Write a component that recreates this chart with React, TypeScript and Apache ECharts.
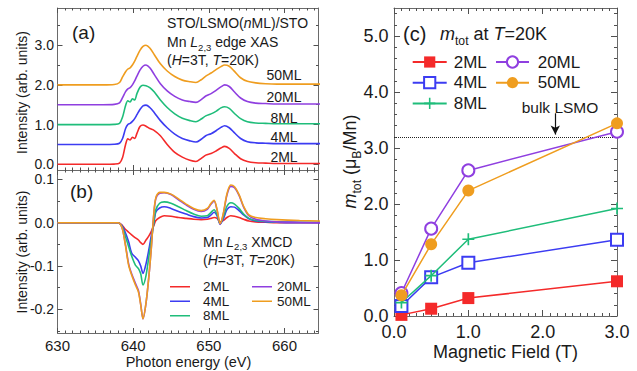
import React, { useEffect, useRef } from 'react';
import * as echarts from 'echarts';

// ---------- (a) Mn L2,3 edge XAS (curves offset by 0.5) ----------
const xasEnergy = [630, 636, 637.5, 638.2, 638.6, 639.0, 639.3, 639.6, 639.9, 640.2, 640.5, 640.9, 641.3, 641.7, 642.2, 642.8, 643.6, 644.5, 645.5, 646.5, 647.5, 648.3, 649.0, 649.6, 650.3, 651.0, 651.6, 652.1, 652.7, 653.4, 654.2, 655.1, 656.2, 657.5, 659, 662, 665];
const xas2ML = [0, 0, 0.005, 0.03, 0.17, 0.5, 0.64, 0.61, 0.68, 0.65, 0.78, 0.95, 0.99, 0.96, 0.9, 0.85, 0.72, 0.5, 0.3, 0.18, 0.1, 0.07, 0.15, 0.23, 0.27, 0.34, 0.41, 0.45, 0.4, 0.27, 0.14, 0.07, 0.04, 0.03, 0.02, 0.02, 0.02];
const xas4ML = [0.5, 0.5, 0.505, 0.53, 0.65, 0.9, 1.0, 1.03, 1.08, 1.15, 1.25, 1.38, 1.47, 1.49, 1.43, 1.3, 1.1, 0.92, 0.76, 0.65, 0.59, 0.56, 0.63, 0.72, 0.77, 0.85, 0.93, 0.97, 0.92, 0.79, 0.65, 0.57, 0.54, 0.53, 0.52, 0.52, 0.52];
const xas8ML = [1.0, 1.0, 1.005, 1.03, 1.19, 1.48, 1.6, 1.57, 1.65, 1.62, 1.78, 1.94, 1.99, 1.98, 1.93, 1.82, 1.62, 1.43, 1.27, 1.16, 1.1, 1.07, 1.14, 1.22, 1.27, 1.34, 1.42, 1.45, 1.41, 1.28, 1.15, 1.07, 1.04, 1.03, 1.02, 1.02, 1.02];
const xas20ML = [1.5, 1.5, 1.51, 1.55, 1.68, 1.83, 1.9, 1.93, 2.0, 2.1, 2.22, 2.37, 2.47, 2.5, 2.43, 2.26, 2.03, 1.85, 1.71, 1.62, 1.58, 1.56, 1.63, 1.72, 1.78, 1.87, 1.95, 2.0, 1.96, 1.82, 1.67, 1.58, 1.54, 1.53, 1.52, 1.52, 1.52];
const xas50ML = [2.0, 2.0, 2.01, 2.06, 2.2, 2.33, 2.4, 2.43, 2.5, 2.6, 2.72, 2.87, 2.97, 3.0, 2.93, 2.76, 2.53, 2.35, 2.21, 2.12, 2.08, 2.06, 2.13, 2.22, 2.3, 2.39, 2.46, 2.5, 2.47, 2.34, 2.18, 2.09, 2.05, 2.03, 2.02, 2.02, 2.02];

// ---------- (b) Mn L2,3 XMCD ----------
const xmcdEnergy = [630, 636, 638.0, 638.5, 638.9, 639.4, 639.8, 640.3, 640.7, 641.0, 641.3, 641.7, 642.1, 642.4, 642.7, 643.0, 643.5, 644.1, 645.0, 646.0, 647.0, 648.0, 649.0, 649.8, 650.3, 650.7, 651.1, 651.5, 651.9, 652.4, 652.9, 653.4, 654.0, 654.6, 655.3, 656.2, 657.5, 659, 662, 665];
const xmcd2ML = [0, 0, 0, -0.005, -0.014, -0.022, -0.028, -0.035, -0.04, -0.046, -0.05, -0.04, -0.03, -0.02, -0.008, 0.005, 0.012, 0.016, 0.015, 0.012, 0.01, 0.008, 0.007, 0.008, 0.01, 0.012, 0.01, 0.002, 0.005, 0.012, 0.016, 0.015, 0.012, 0.008, 0.004, 0.002, 0.001, 0, 0, 0];
const xmcd4ML = [0, 0, 0, -0.006, -0.02, -0.044, -0.07, -0.08, -0.088, -0.1, -0.117, -0.095, -0.06, -0.03, -0.004, 0.025, 0.034, 0.037, 0.033, 0.026, 0.02, 0.014, 0.011, 0.012, 0.018, 0.024, 0.016, -0.003, 0.008, 0.03, 0.037, 0.036, 0.028, 0.018, 0.009, 0.004, 0.002, 0.001, 0, 0];
const xmcd8ML = [0, 0, 0, -0.008, -0.027, -0.055, -0.077, -0.098, -0.106, -0.118, -0.144, -0.122, -0.075, -0.04, -0.004, 0.03, 0.045, 0.048, 0.045, 0.037, 0.028, 0.02, 0.015, 0.016, 0.024, 0.03, 0.018, -0.003, 0.012, 0.038, 0.046, 0.043, 0.033, 0.02, 0.01, 0.005, 0.003, 0.002, 0.001, 0.001];
const xmcd20ML = [0, 0, 0, -0.01, -0.042, -0.095, -0.118, -0.14, -0.157, -0.188, -0.222, -0.186, -0.12, -0.058, 0.013, 0.056, 0.068, 0.069, 0.065, 0.053, 0.041, 0.031, 0.026, 0.031, 0.043, 0.05, 0.028, -0.004, 0.018, 0.064, 0.084, 0.081, 0.063, 0.036, 0.016, 0.008, 0.004, 0.002, 0.001, 0];
const xmcd50ML = [0, 0, 0, -0.01, -0.044, -0.098, -0.121, -0.144, -0.16, -0.19, -0.222, -0.185, -0.12, -0.058, 0.015, 0.058, 0.07, 0.07, 0.066, 0.055, 0.043, 0.033, 0.028, 0.033, 0.045, 0.052, 0.03, -0.002, 0.02, 0.067, 0.087, 0.083, 0.065, 0.038, 0.018, 0.012, 0.009, 0.007, 0.005, 0.004];

// ---------- (c) m_tot vs field at T=20K ----------
const fieldT = [0.1, 0.5, 1.0, 3.0];
const mtot2ML = [0.02, 0.13, 0.32, 0.62];
const mtot4ML = [0.18, 0.69, 0.95, 1.36];
const mtot8ML = [0.24, 0.72, 1.37, 1.92];
const mtot20ML = [0.41, 1.56, 2.6, 3.29];
const mtot50ML = [0.37, 1.28, 2.24, 3.44];
const bulkLSMO = 3.2;

const thickness = ['2ML', '4ML', '8ML', '20ML', '50ML'];
const energyTicks = [630, 640, 650, 660];
const xasTicks = [0, 1, 2, 3];
const xmcdTicks = [-0.2, -0.1, 0, 0.1];
const fieldTicks = [0, 1, 2, 3];
const mtotTicks = [0, 1, 2, 3, 4, 5];

const FF = '"Liberation Sans", Arial, Helvetica, sans-serif';
const TXT = '#1a1a1a';
const FRAME = '#6a6a6a';
const TICK = '#505050';
const RED = '#f42a2a';
const BLUE = '#3c3cf2';
const GREEN = '#1fbd7a';
const PURPLE = '#8f3fe0';
const ORANGE = '#ef9d1f';
const COLORS = [RED, BLUE, GREEN, PURPLE, ORANGE];

function steps(a: number, b: number, s: number, skip: number): number[] {
  const out: number[] = [];
  for (let i = 0; a + i * s <= b + 1e-9; i++) {
    const v = +(a + i * s).toFixed(4);
    if (Math.abs(v / skip - Math.round(v / skip)) > 1e-6) out.push(v);
  }
  return out;
}

function axisGroup(dim: 'x' | 'y', gridIndex: number, min: number, max: number, major: number[], minor: number[], label: any, majorLen: number, minorLen: number) {
  const p1 = dim === 'x' ? 'bottom' : 'left';
  const p2 = dim === 'x' ? 'top' : 'right';
  const base = { type: 'value', gridIndex, min, max, splitLine: { show: false }, minorTick: { show: false }, minorSplitLine: { show: false } };
  const tick = (vals: number[], len: number) => ({ show: true, inside: true, length: len, customValues: vals, lineStyle: { color: TICK, width: 1 } });
  const line = { show: true, onZero: false, lineStyle: { color: FRAME, width: 1 } };
  const noLine = { show: false, onZero: false };
  const noLabel = { show: false };
  return [
    { ...base, position: p1, axisLine: line, axisTick: tick(major, majorLen), axisLabel: label ? { show: true, customValues: major, fontFamily: FF, color: TXT, ...label } : noLabel },
    { ...base, position: p2, axisLine: line, axisTick: tick(major, majorLen), axisLabel: noLabel },
    { ...base, position: p1, axisLine: noLine, axisTick: tick(minor, minorLen), axisLabel: noLabel },
    { ...base, position: p2, axisLine: noLine, axisTick: tick(minor, minorLen), axisLabel: noLabel },
  ];
}

function richStyles(fs: number) {
  const lh = Math.round(fs * 1.45);
  const sfs = Math.round(fs * 0.68 * 10) / 10;
  return {
    n: { fontSize: fs, fontFamily: FF, fill: TXT, lineHeight: lh },
    i: { fontSize: fs, fontFamily: FF, fill: TXT, fontStyle: 'italic', lineHeight: lh },
    s: { fontSize: sfs, fontFamily: FF, fill: TXT, lineHeight: sfs + 1, verticalAlign: 'bottom' },
  };
}

function gText(x: number, y: number, text: string, fs: number, opts: any = {}) {
  return {
    type: 'text', x, y, silent: true, rotation: opts.rotation || 0, z: 100,
    style: { text, fontSize: fs, fontFamily: FF, fill: TXT, align: opts.align || 'left', verticalAlign: 'middle', rich: opts.rich ? richStyles(fs) : undefined },
  };
}

const pairs = (xs: number[], ys: number[]) => xs.map((x, i) => [x, ys[i]]);

const LINE_ICON = 'path://M0,0H0.05V0.05H0Z M0,4.2H20V5.8H0Z M19.95,9.95H20V10H19.95Z';
const PLUS = 'path://M0,4.3H10V5.7H0Z M4.3,0H5.7V10H4.3Z';

function buildOption() {
  const xAxes = [
    ...axisGroup('x', 0, 630, 664.5, energyTicks, steps(631, 664, 1, 10), null, 5, 2.5),
    ...axisGroup('x', 1, 630, 664.5, energyTicks, steps(631, 664, 1, 10), { fontSize: 15, margin: 4.5, formatter: (v: number) => String(v) }, 5, 2.5),
    ...axisGroup('x', 2, 0, 3, fieldTicks, steps(0.1, 2.9, 0.1, 1), { fontSize: 18, margin: 6.5, formatter: (v: number) => v.toFixed(1) }, 6, 3),
  ];
  const yAxes = [
    ...axisGroup('y', 0, -0.144, 3.937, xasTicks, [0.5, 1.5, 2.5, 3.5], { fontSize: 14, margin: 3.5, formatter: (v: number) => v.toFixed(1) }, 5, 2.5),
    ...axisGroup('y', 1, -0.2547, 0.1217, xmcdTicks, [-0.25, -0.15, -0.05, 0.05], { fontSize: 14, margin: 3.5, formatter: (v: number) => v.toFixed(1) }, 5, 2.5),
    ...axisGroup('y', 2, 0, 5.5, mtotTicks, steps(0.2, 5.4, 0.2, 1), { fontSize: 18, margin: 5.5, formatter: (v: number) => v.toFixed(1) }, 6, 3),
  ];

  const xasData = [xas2ML, xas4ML, xas8ML, xas20ML, xas50ML];
  const xmcdData = [xmcd2ML, xmcd4ML, xmcd8ML, xmcd20ML, xmcd50ML];
  const mtotData = [mtot2ML, mtot4ML, mtot8ML, mtot20ML, mtot50ML];
  const symbols = ['rect', 'emptyRect', PLUS, 'emptyCircle', 'circle'];
  const symSizes = [12, 12, 12, 12, 12];

  const series: any[] = [];
  thickness.forEach((t, k) => {
    series.push({
      name: 'xas-' + t, type: 'line', xAxisIndex: 0, yAxisIndex: 0, data: pairs(xasEnergy, xasData[k]),
      symbol: 'none', smooth: 0.3, silent: true, lineStyle: { color: COLORS[k], width: 1.6 }, itemStyle: { color: COLORS[k] },
    });
  });
  thickness.forEach((t, k) => {
    series.push({
      name: 'xmcd-' + t, type: 'line', xAxisIndex: 4, yAxisIndex: 4, data: pairs(xmcdEnergy, xmcdData[k]),
      symbol: 'none', smooth: 0.3, silent: true, lineStyle: { color: COLORS[k], width: 1.6 }, itemStyle: { color: COLORS[k] },
    });
  });
  thickness.forEach((t, k) => {
    const s: any = {
      name: 'm-' + t, type: 'line', xAxisIndex: 8, yAxisIndex: 8, data: pairs(fieldT, mtotData[k]),
      symbol: symbols[k], symbolSize: symSizes[k], silent: true, z: 5 + k,
      lineStyle: { color: COLORS[k], width: 1.5 }, itemStyle: { color: COLORS[k], borderWidth: 1.5 },
    };
    if (k === 0) {
      s.markLine = {
        silent: true, symbol: 'none', label: { show: false }, animation: false,
        data: [
          { yAxis: bulkLSMO, symbol: 'none', lineStyle: { type: 'dotted', color: '#222', width: 1 } },
          [
            { coord: [2.17, 3.62], symbol: 'none', lineStyle: { type: 'solid', color: '#111', width: 1.2 } },
            { coord: [2.17, 3.24], symbol: 'arrow', symbolSize: [7, 9] },
          ],
        ],
      };
    }
    series.push(s);
  });

  const strip = (name: string) => name.split('-')[1];
  const legendBase = { orient: 'vertical', padding: 0, selectedMode: false, formatter: strip };

  const legend = [
    { ...legendBase, data: ['xmcd-2ML', 'xmcd-4ML', 'xmcd-8ML'], left: 170, top: 279.7, itemGap: 0.5, itemWidth: 20, itemHeight: 10, icon: LINE_ICON,
      textStyle: { fontSize: 13.5, fontFamily: FF, color: TXT, lineHeight: 13.5, padding: [0, 0, 0, 8] } },
    { ...legendBase, data: ['xmcd-20ML', 'xmcd-50ML'], left: 252, top: 279.7, itemGap: 0.5, itemWidth: 20, itemHeight: 10, icon: LINE_ICON,
      textStyle: { fontSize: 13.5, fontFamily: FF, color: TXT, lineHeight: 13.5, padding: [0, 0, 0, 0] } },
    { ...legendBase, data: ['m-2ML', 'm-4ML', 'm-8ML'], left: 411.7, top: 53.5, itemGap: 3.7, itemWidth: 34, itemHeight: 14,
      textStyle: { fontSize: 17, fontFamily: FF, color: TXT, lineHeight: 17, padding: [0, 0, 0, 2] } },
    { ...legendBase, data: ['m-20ML', 'm-50ML'], left: 495, top: 53.5, itemGap: 3.7, itemWidth: 33, itemHeight: 14,
      textStyle: { fontSize: 17, fontFamily: FF, color: TXT, lineHeight: 17, padding: [0, 0, 0, 3.7] } },
  ];

  const graphic = [
    gText(72, 32, '(a)', 19),
    gText(167, 23, '{n|STO/LSMO(}{i|n}{n|ML)/STO}', 14, { rich: true }),
    gText(167, 42, '{n|Mn }{i|L}{s|2,3}{n| edge XAS}', 14, { rich: true }),
    gText(167, 60, '{n|(}{i|H}{n|=3T, }{i|T}{n|=20K)}', 14, { rich: true }),
    gText(284, 75, '50ML', 14, { align: 'center' }),
    gText(284, 97, '20ML', 14, { align: 'center' }),
    gText(284, 118, '8ML', 14, { align: 'center' }),
    gText(284, 137, '4ML', 14, { align: 'center' }),
    gText(284, 156.5, '2ML', 14, { align: 'center' }),
    gText(70, 191, '(b)', 19),
    gText(203, 241.7, '{n|Mn }{i|L}{s|2,3}{n| XMCD}', 14, { rich: true }),
    gText(203, 260, '{n|(}{i|H}{n|=3T, }{i|T}{n|=20K)}', 14, { rich: true }),
    gText(188.5, 361.7, 'Photon energy (eV)', 14.5, { align: 'center' }),
    gText(22, 92.5, 'Intensity (arb. units)', 14, { align: 'center', rotation: Math.PI / 2 }),
    gText(22, 252, 'Intensity (arb. units)', 14, { align: 'center', rotation: Math.PI / 2 }),
    gText(403, 34, '(c)', 20),
    gText(440, 34, '{i|m}{s|tot}{n| at }{i|T}{n|=20K}', 18, { rich: true }),
    gText(560, 107, 'bulk LSMO', 15.5, { align: 'center' }),
    gText(505.5, 352, 'Magnetic Field (T)', 18, { align: 'center' }),
    gText(350, 161.5, '{i|m}{s|tot}{n| (μ}{s|B}{n|/Mn)}', 18, { align: 'center', rotation: Math.PI / 2, rich: true }),
  ];

  return {
    animation: false,
    backgroundColor: '#ffffff',
    textStyle: { fontFamily: FF },
    grid: [
      { left: 57.5, top: 8, width: 261, height: 162, containLabel: false, outerBoundsMode: 'none' },
      { left: 57.5, top: 170, width: 261, height: 163, containLabel: false, outerBoundsMode: 'none' },
      { left: 394, top: 8, width: 223, height: 308, containLabel: false, outerBoundsMode: 'none' },
    ],
    xAxis: xAxes,
    yAxis: yAxes,
    legend,
    series,
    graphic,
  };
}

export default function App() {
  const ref = useRef<HTMLDivElement>(null);
  useEffect(() => {
    if (!ref.current) return;
    const chart = echarts.init(ref.current, null, { renderer: 'svg' });
    chart.setOption(buildOption() as any);
    return () => chart.dispose();
  }, []);
  return (
    <div style={{ position: 'fixed', left: 0, top: 0, width: 637, height: 371, background: '#fff' }}>
      <div ref={ref} style={{ width: 637, height: 371 }} />
    </div>
  );
}
